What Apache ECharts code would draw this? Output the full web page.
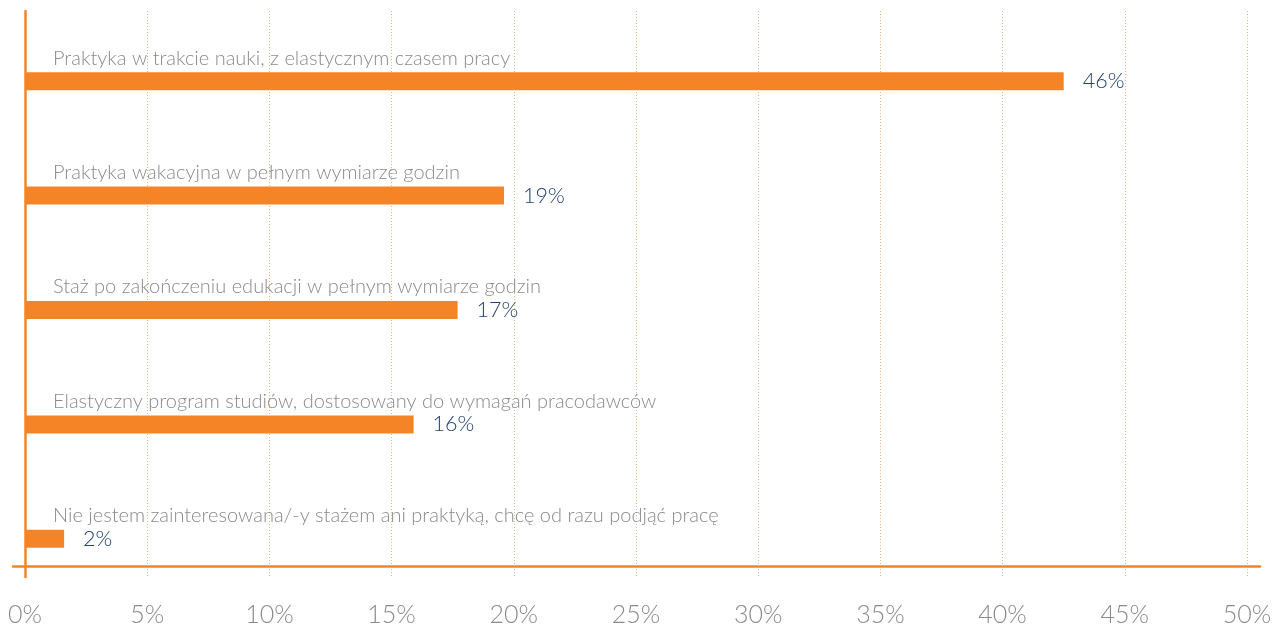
<!DOCTYPE html>
<html>
<head>
<meta charset="utf-8">
<script src="https://cdn.jsdelivr.net/npm/echarts@6/dist/echarts.min.js"></script>
<style>
html,body{margin:0;padding:0;background:#fff;}
#chart{width:1281px;height:627px;}
</style>
</head>
<body>
<div id="chart"></div>
<script>
var categories = [
  'Praktyka w trakcie nauki, z elastycznym czasem pracy',
  'Praktyka wakacyjna w pełnym wymiarze godzin',
  'Staż po zakończeniu edukacji w pełnym wymiarze godzin',
  'Elastyczny program studiów, dostosowany do wymagań pracodawców',
  'Nie jestem zainteresowana/-y stażem ani praktyką, chcę od razu podjąć pracę'
];
var barValues = [42.5, 19.6, 17.7, 15.9, 1.6];
var valueLabels = ['46%', '19%', '17%', '16%', '2%'];
var tickValues = [0, 5, 10, 15, 20, 25, 30, 35, 40, 45, 50];

var ORANGE = '#F58426';
var FONT = 'Lato, "Helvetica Neue", Roboto, sans-serif';

var chart = echarts.init(document.getElementById('chart'));
chart.setOption({
  animation: false,
  backgroundColor: '#ffffff',
  grid: [
    {left: 25, right: 34, top: 24, bottom: 31},
    {left: 25, right: 34, top: 11, bottom: 50},
    {left: 13, right: 21, top: 11, bottom: 61}
  ],
  xAxis: [
    {gridIndex: 0, type: 'value', min: tickValues[0], max: tickValues[tickValues.length - 1], show: false},
    {
      gridIndex: 1, type: 'value', min: tickValues[0], max: tickValues[tickValues.length - 1], interval: 5,
      axisLine: {show: false}, axisTick: {show: false},
      splitLine: {show: true, lineStyle: {color: '#F6B27A', type: [1, 2], width: 1}},
      axisLabel: {
        margin: 25, color: '#8a8a8a', fontSize: 25, fontFamily: FONT, fontWeight: 300,
        formatter: function (v) { return v + '%'; }
      }
    },
    {
      gridIndex: 2, type: 'value', min: 0, max: 1,
      axisLine: {show: true, lineStyle: {color: ORANGE, width: 2.5}},
      axisTick: {show: false}, axisLabel: {show: false}, splitLine: {show: false}
    }
  ],
  yAxis: [
    {gridIndex: 0, type: 'category', data: categories, inverse: true, show: false},
    {
      gridIndex: 1, type: 'value', min: 0, max: 1,
      axisLine: {show: true, lineStyle: {color: ORANGE, width: 2.5}},
      axisTick: {show: false}, axisLabel: {show: false}, splitLine: {show: false}
    },
    {gridIndex: 2, type: 'value', show: false}
  ],
  series: [
    {
      type: 'bar', xAxisIndex: 0, yAxisIndex: 0,
      data: barValues,
      barWidth: 18,
      itemStyle: {color: ORANGE},
      label: {
        show: true, position: 'right', distance: 19,
        color: '#21406A', fontSize: 21.5, fontFamily: FONT, fontWeight: 300,
        formatter: function (p) { return valueLabels[p.dataIndex]; }
      },
      z: 3
    },
    {
      type: 'bar', xAxisIndex: 0, yAxisIndex: 0,
      data: barValues,
      barWidth: 18, barGap: '-100%',
      itemStyle: {color: 'rgba(0,0,0,0)'},
      label: {
        show: true, position: [28, -14], align: 'left', verticalAlign: 'middle',
        color: '#8a8a8a', fontSize: 20, fontFamily: FONT, fontWeight: 300,
        formatter: function (p) { return categories[p.dataIndex]; }
      },
      silent: true,
      z: 4
    }
  ]
});
</script>
</body>
</html>
